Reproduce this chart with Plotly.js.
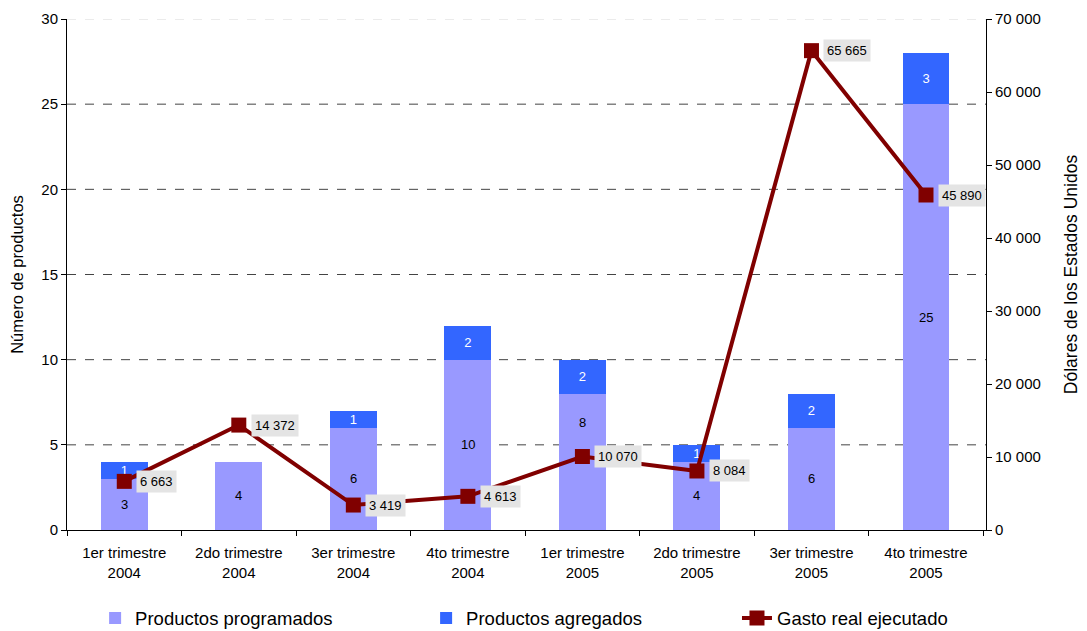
<!DOCTYPE html>
<html><head><meta charset="utf-8">
<script src="https://cdn.plot.ly/plotly-3.0.1.min.js"></script>
<style>body{margin:0;background:#fff}#c{width:1087px;height:631px}</style>
</head><body><div id="c"></div>
<script>
const categories = ["1er trimestre<br>2004","2do trimestre<br>2004","3er trimestre<br>2004","4to trimestre<br>2004","1er trimestre<br>2005","2do trimestre<br>2005","3er trimestre<br>2005","4to trimestre<br>2005"];
const programados = [3,4,6,10,8,4,6,25];
const agregados = [1,0,1,2,2,1,2,3];
const gasto = [6663,14372,3419,4613,10070,8084,65665,45890];
const gridValues = [5,10,15,20,25];
const topGrid = 30;

// label placement (fraction of bar height) - styling only
const labelFrac = [0.5,0.5,0.5,0.5,0.79,0.5,0.5,0.5];

const font = "Liberation Sans, Arial, sans-serif";
function fmt(v){return String(v).replace(/\B(?=(\d{3})+(?!\d))/g," ");}

const traces = [
  {type:"bar", name:"Productos programados", x:categories, y:programados,
   marker:{color:"#9999FF"}, hoverinfo:"skip", legend:"legend"},
  {type:"bar", name:"Productos agregados", x:categories, y:agregados,
   marker:{color:"#3366FF"}, text:agregados.map(v=>v>0?String(v):""), textposition:"inside",
   insidetextanchor:"middle", textangle:0, constraintext:"none", textfont:{family:font,size:13,color:"#fff"},
   hoverinfo:"skip", legend:"legend"},
  {type:"scatter", mode:"lines+markers", name:"Gasto real ejecutado", x:categories, y:gasto, yaxis:"y2",
   line:{color:"#800000",width:4}, marker:{symbol:"square",size:15,color:"#800000"}, cliponaxis:false,
   legend:"legend2"}
];

const shapes = gridValues.map(v=>({type:"line",xref:"paper",x0:0,x1:1,yref:"y",y0:v,y1:v,
  line:{color:"#444",width:1,dash:"dash"},layer:"below"}));
shapes.push({type:"line",xref:"paper",x0:0,x1:1,yref:"y",y0:topGrid,y1:topGrid,
  line:{color:"#d8d8d8",width:1,dash:"dash"},layer:"below"});

const annotations = programados.map((v,i)=>({x:categories[i], y:v*labelFrac[i], xref:"x", yref:"y",
  text:String(v), showarrow:false, xanchor:"center", yanchor:"middle",
  font:{family:font,size:13,color:"#000"}}));
gasto.forEach((v,i)=>annotations.push({x:categories[i], y:v, xref:"x", yref:"y2",
  text:fmt(v), showarrow:false, xanchor:"left", yanchor:"middle", xshift:12,
  bgcolor:"#e4e4e4", borderpad:3, font:{family:font,size:13,color:"#000"}}));

const legendFont = {family:font,size:18.5,color:"#000"};
const layout = {
  width:1087, height:631, paper_bgcolor:"#fff", plot_bgcolor:"#fff",
  margin:{l:67,r:101,t:19,b:101},
  barmode:"stack", bargap:0.59, separators:", ",
  font:{family:font,size:15,color:"#000"},
  showlegend:true,
  legend:{orientation:"h", xref:"container", x:0.0875, yref:"container", y:0.02, xanchor:"left", yanchor:"middle",
    font:legendFont, entrywidth:286, entrywidthmode:"pixels", traceorder:"normal"},
  legend2:{orientation:"h", xref:"container", x:0.678, yref:"container", y:0.02, xanchor:"left", yanchor:"middle",
    font:legendFont},
  xaxis:{type:"category", showline:true, linecolor:"#000", linewidth:1, ticks:"outside", ticklen:5,
    tickson:"boundaries", tickcolor:"#000", showgrid:false, tickfont:{family:font,size:15}, ticklabelstandoff:9},
  yaxis:{range:[0,30], dtick:5, showline:true, linecolor:"#000", ticks:"outside", ticklen:5, tickcolor:"#000",
    showgrid:false, zeroline:false, tickfont:{family:font,size:15},
    title:{text:"Número de productos", font:{family:font,size:16.5}, standoff:13}},
  yaxis2:{overlaying:"y", side:"right", range:[0,70000], dtick:10000, tickformat:",d",
    showline:true, linecolor:"#000", ticks:"outside", ticklen:5, tickcolor:"#000", showgrid:false, zeroline:false,
    tickfont:{family:font,size:15},
    title:{text:"Dólares de los Estados Unidos", font:{family:font,size:17.5}, standoff:24}},
  shapes:shapes, annotations:annotations
};
Plotly.newPlot("c", traces, layout, {displayModeBar:false, staticPlot:true});
</script></body></html>
